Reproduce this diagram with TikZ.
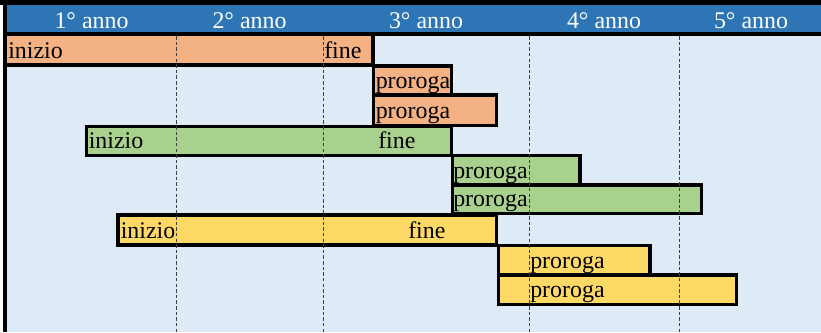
\documentclass[tikz,border=0pt]{standalone}
\usepackage{fontspec}
\setmainfont{Liberation Serif}
\usepackage{tikz}
\usetikzlibrary{positioning}
\definecolor{intest}{HTML}{2E75B6}
\definecolor{sfondo}{HTML}{DEEBF7}
\definecolor{arancio}{HTML}{F4B183}
\definecolor{verde}{HTML}{A9D18E}
\definecolor{giallo}{HTML}{FFD966}

\begin{document}
\begin{tikzpicture}[x=0.025cm, y=-0.025cm,
  every node/.style = {inner sep=0pt, font=\fontsize{17}{20}\selectfont},
  barra/.style = {draw=black, line width=2.4pt},
  lbl/.style = {anchor=base west},
  anno/.style = {text=white, anchor=base},
  griglia/.style = {black!75, line width=0.6pt, dash pattern=on 2.5pt off 1.5pt}
  ]
  \useasboundingbox (0,0) rectangle (821,332);
  \fill[white] (0,0) rectangle (821,332);
  \fill[sfondo] (7,36) rectangle (821,332);
  \fill[intest] (7,5) rectangle (821,32);
  % barre
  \draw[barra, fill=arancio] (5,34) rectangle (373,65);
  \draw[barra, fill=arancio] (373.5,66) rectangle (451.5,95);
  \draw[barra, fill=arancio] (373.5,95) rectangle (496.5,125.5);
  \draw[barra, fill=verde] (86.5,126.5) rectangle (451.5,155.5);
  \draw[barra, fill=verde] (452.5,155.5) rectangle (580,185);
  \draw[barra, fill=verde] (452.5,185) rectangle (701.5,213.5);
  \draw[barra, fill=giallo] (118,215) rectangle (496.5,245);
  \draw[barra, fill=giallo] (498.5,245.5) rectangle (650,275);
  \draw[barra, fill=giallo] (498.5,275) rectangle (736.5,304.5);
  % linee tratteggiate
  \foreach \x in {176,323,529,679}
    \draw[griglia] (\x,36) -- (\x,332);
  % anni
  \foreach \c/\n in {91.5/1,249.5/2,426/3,604/4,751/5}
    \node[anno] (anno\n) at (\c,28) {\n° anno};
  % etichette
  \node[lbl] (ini1) at (8,58) {inizio};
  \node[lbl] (fin1) at (324,58) {fine};
  \node[lbl] (pro1a) at (375.5,88) {proroga};
  \node[lbl] (pro1b) at (375.5,118.5) {proroga};
  \node[lbl] (ini2) at (88.5,148.5) {inizio};
  \node[lbl] (fin2) at (378,148.5) {fine};
  \node[lbl] (pro2a) at (453,178) {proroga};
  \node[lbl] (pro2b) at (453,206.5) {proroga};
  \node[lbl] (ini3) at (120.5,238) {inizio};
  \node[lbl] (fin3) at (408,238) {fine};
  \node[lbl] (pro3a) at (530,268) {proroga};
  \node[lbl] (pro3b) at (530,297.5) {proroga};
  % bordi
  \fill[black] (0,0) rectangle (821,5);
  \fill[black] (3,0) rectangle (7,332);
  \fill[black] (7,32) rectangle (821,36);
\end{tikzpicture}
\end{document}
